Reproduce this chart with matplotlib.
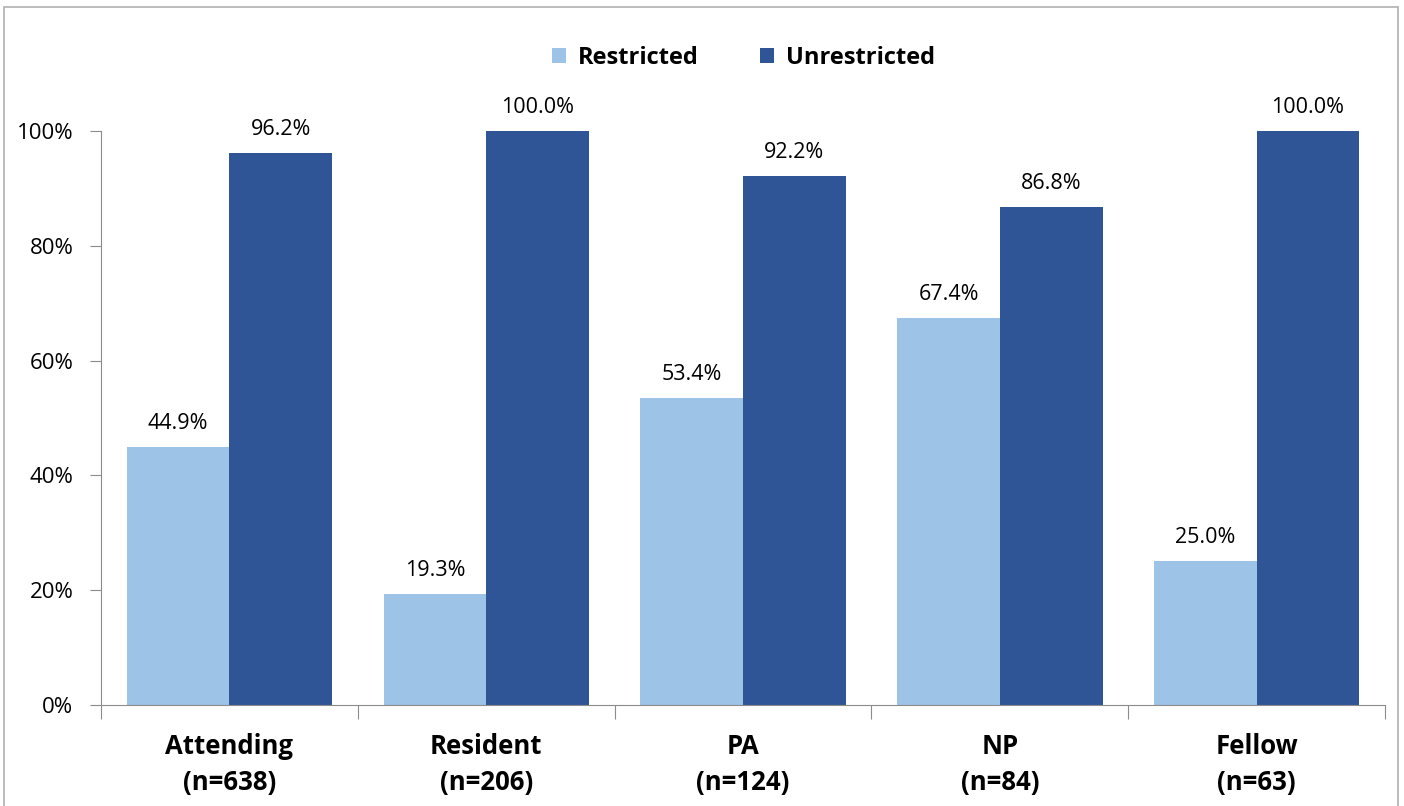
import numpy as np
import matplotlib
matplotlib.use("Agg")
import matplotlib.pyplot as plt
from matplotlib.patches import Rectangle

plt.rcParams['font.family'] = ['Open Sans', 'DejaVu Sans']

categories = ["Attending\n(n=638)", "Resident\n(n=206)", "PA\n(n=124)", "NP\n(n=84)", "Fellow\n(n=63)"]
restricted = [44.9, 19.3, 53.4, 67.4, 25.0]
unrestricted = [96.2, 100.0, 92.2, 86.8, 100.0]

LIGHT = "#9DC3E6"
DARK = "#2F5597"

fig = plt.figure(figsize=(14.04, 8.06), dpi=100)
ax = fig.add_axes([0.072, 0.1253, 0.9145, 0.7122])

x = np.arange(len(categories))
w = 0.4
b1 = ax.bar(x - w / 2, restricted, w, color=LIGHT, label="Restricted")
b2 = ax.bar(x + w / 2, unrestricted, w, color=DARK, label="Unrestricted")

# value labels above each bar
for bars, vals in ((b1, restricted), (b2, unrestricted)):
    for r, v in zip(bars, vals):
        ax.text(r.get_x() + r.get_width() / 2, v + 2.3, f"{v:.1f}%",
                ha="center", va="bottom", fontsize=15.5, clip_on=False)

ax.set_xlim(-0.5, len(categories) - 0.5)
ax.set_ylim(0, 100)
ax.set_yticks(np.arange(0, 101, 20))
ax.set_yticklabels([f"{t}%" for t in range(0, 101, 20)], fontsize=16)
# ticks sit between groups, labels at group centres
ax.set_xticks(np.arange(-0.5, len(categories), 1))
ax.set_xticklabels([])
ax.set_xticks(x, minor=True)
ax.set_xticklabels(categories, minor=True, fontsize=18.5, fontweight="bold", linespacing=1.45)
ax.tick_params(axis="x", which="minor", length=0, pad=20)
ax.tick_params(axis="x", which="major", length=10, direction="out", color="#8c8c8c")
ax.tick_params(axis="y", length=8, direction="out", color="#8c8c8c", pad=12)

for s in ("top", "right"):
    ax.spines[s].set_visible(False)
for s in ("left", "bottom"):
    ax.spines[s].set_color("#8c8c8c")

ax.legend(loc="upper center", bbox_to_anchor=(0.5, 1.185), ncol=2, frameon=False,
          prop={"weight": "bold", "size": 17}, handlelength=0.6, handleheight=0.6,
          columnspacing=2.6, handletextpad=0.5)

fig.patches.append(Rectangle((4 / 1404, -0.01), 1394 / 1404, 1 - 7 / 806 + 0.01,
                             transform=fig.transFigure, fill=False,
                             edgecolor="#b0b0b0", linewidth=1.2))

fig.savefig("out.png", dpi=100)
